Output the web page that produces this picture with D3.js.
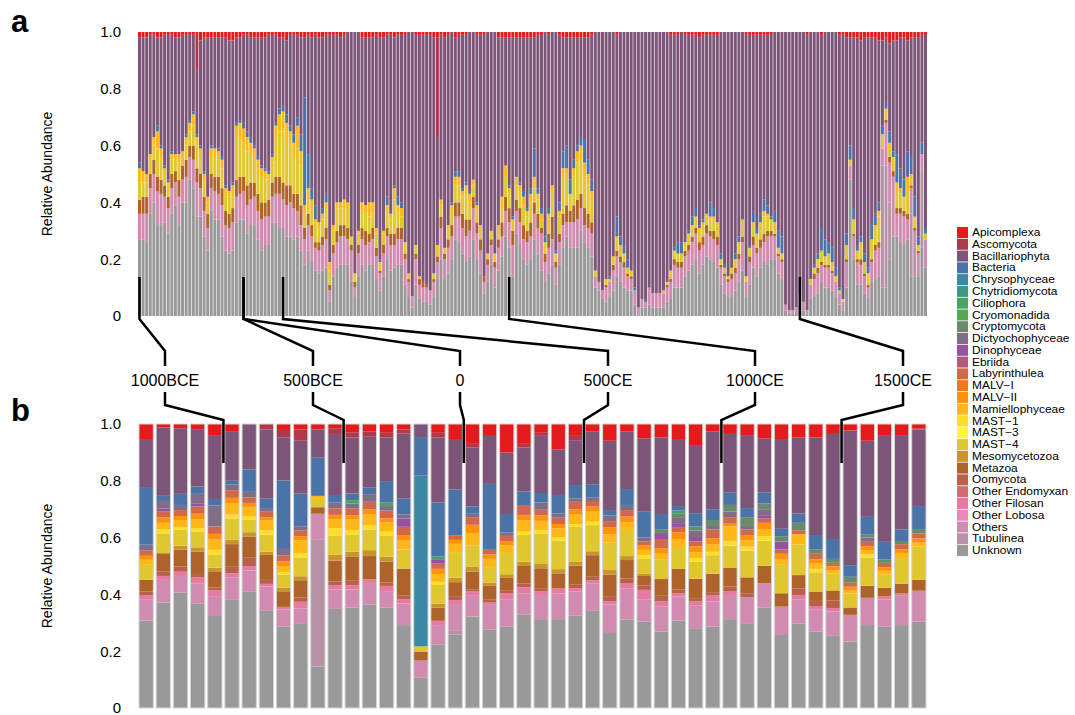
<!DOCTYPE html>
<html>
<head>
<meta charset="utf-8">
<script src="https://cdn.jsdelivr.net/npm/d3@7"></script>
<style>
  body { margin: 0; background: #fff; }
  svg text { font-family: "Liberation Sans", Arial, Helvetica, sans-serif; fill: #000; }
</style>
</head>
<body>
<svg id="chart" width="1075" height="715"></svg>
<script>
// legend order, top to bottom; bars stack in the reverse order
const taxa = ["Apicomplexa", "Ascomycota", "Bacillariophyta", "Bacteria", "Chrysophyceae",
  "Chytridiomycota", "Ciliophora", "Cryomonadida", "Cryptomycota", "Dictyochophyceae",
  "Dinophyceae", "Ebriida", "Labyrinthulea", "MALV\u2212I", "MALV\u2212II", "Mamiellophyceae",
  "MAST\u22121", "MAST\u22123", "MAST\u22124", "Mesomycetozoa", "Metazoa", "Oomycota",
  "Other Endomyxan", "Other Filosan", "Other Lobosa", "Others", "Tubulinea", "Unknown"];

const tickValues = [0, 20, 40, 60, 80, 100];
const tickLabels = ["0", "0.2", "0.4", "0.6", "0.8", "1.0"];

// panel a: 220 samples, percent of reads
const aUnknown = [
  27,27,26,36,40,32,32,33,29,36, 39,32,40,40,48,45,35,35,28,23,
  37,34,34,28,23,22,23,33,34,34, 29,32,32,27,23,25,25,33,33,31,
  31,28,28,27,28,23,18,23,19,16, 15,16,17,5,14,17,18,18,18,12,
  7,14,18,16,18,18,13,9,14,20, 16,17,18,18,11,7,3,11,6,5,
  5,4,7,13,20,13,15,20,27,26, 22,19,21,27,20,15,8,12,18,10,
  16,21,28,24,14,29,25,20,18,20, 27,22,16,12,15,18,11,18,24,28,
  24,24,24,30,26,24,21,10,9,6, 5,7,9,14,12,10,9,9,4,0,
  3,3,4,3,3,3,3,5,6,10, 10,10,14,16,18,20,15,18,21,20,
  19,17,11,8,7,7,9,12,16,7, 11,17,14,17,19,18,20,20,15,13,
  2,1,1,1,4,2,1,6,7,8, 12,10,10,9,7,4,2,10,48,20,
  11,11,8,6,12,13,14,10,10,20, 28,28,26,25,27,14,14,14,24,17];
const aTubulinea = [
  0,0,0,0,0,0,0,0,0,0, 0,0,0,0,0,0,0,0,0,0,
  0,0,0,0,0,0,0,0,0,0, 0,0,0,0,0,0,0,0,0,0,
  0,0,0,0,0,0,0,0,0,0, 0,0,0,0,0,0,0,0,0,0,
  0,0,0,0,0,0,0,0,0,0, 0,0,0,0,0,0,0,0,0,0,
  0,0,0,0,0,0,0,0,0,0, 0,0,0,0,0,0,0,0,0,0,
  0,0,0,0,0,0,0,0,0,0, 0,0,0,0,0,0,0,0,0,0,
  0,0,0,0,0,0,0,0,0,0, 0,0,0,0,0,0,0,0,0,0,
  0,0,0,0,0,0,0,0,0,0, 0,0,0,0,0,0,0,0,0,0,
  0,0,0,0,0,0,0,0,0,0, 0,0,0,0,0,0,0,0,0,0,
  0,0,0,0,0,0,0,0,0,0, 0,0,0,0,0,0,0,0,0,0,
  0,0,0,0,0,0,0,43,43,20, 0,0,0,0,0,22,10,0,27,0];
const aOthers = [
  9,9,10,9,10,12,11,9,9,9, 8,10,8,9,8,10,12,10,9,8,
  8,10,9,11,9,9,10,9,9,10, 10,9,10,10,11,10,10,9,10,12,
  10,11,12,11,9,9,9,9,9,8, 8,9,10,4,8,9,10,10,9,11,
  3,8,9,9,8,9,8,6,8,8, 9,8,9,9,9,5,4,9,5,5,
  5,5,5,6,11,7,9,8,8,9, 9,9,9,11,9,8,4,6,7,7,
  8,7,9,9,11,8,8,7,8,8, 9,9,13,7,9,9,6,8,8,5,
  9,9,10,8,6,7,8,4,3,3, 5,5,7,7,7,7,5,4,5,3,
  3,2,6,5,5,5,5,5,6,8, 7,7,7,7,8,9,8,7,8,8,
  8,8,6,6,5,6,6,8,10,5, 8,8,8,7,7,10,8,8,6,6,
  2,1,1,2,4,3,1,5,6,7, 6,7,7,6,5,4,3,9,5,8,
  8,7,6,4,7,10,10,6,15,14, 21,8,10,10,7,9,6,8,6,10];
const aMetazoa = [
  5,6,6,5,5,5,5,4,4,5, 4,6,5,6,4,5,5,5,5,5,
  5,5,6,6,5,5,5,6,6,5, 7,6,5,6,6,5,6,5,6,6,
  6,7,6,5,6,7,4,4,4,2, 3,3,4,2,3,4,4,4,4,2,
  2,3,4,5,3,4,3,1,3,3, 4,4,4,4,2,1,0,2,2,2,
  1,0,1,2,4,2,3,4,5,5, 5,6,4,4,4,4,2,2,2,2,
  3,5,5,5,5,4,5,5,4,5, 4,5,2,3,5,8,2,3,4,6,
  4,6,7,5,6,5,4,0,0,0, 1,0,2,2,2,2,1,1,0,0,
  0,0,0,0,0,0,0,1,1,2, 2,2,2,2,2,2,3,3,3,2,
  3,3,1,1,1,2,2,2,2,0, 2,3,2,3,3,2,2,1,1,1,
  0,0,0,0,0,0,0,0,2,2, 1,1,1,1,0,0,0,1,0,1,
  1,2,1,1,1,2,2,0,1,2, 2,2,2,2,2,1,1,1,0,0];
const aMast4 = [
  6,5,5,5,5,10,7,4,4,5, 4,6,3,5,5,7,8,6,5,4,
  6,7,6,7,6,6,6,14,13,12, 12,10,9,9,9,8,7,7,13,16,
  18,16,14,13,16,14,5,5,6,7, 5,6,6,5,5,8,6,6,6,3,
  3,4,6,6,6,5,5,2,4,6, 5,12,5,4,4,2,0,3,1,0,
  0,0,2,3,4,2,4,5,6,6, 6,9,6,4,4,4,0,2,2,3,
  4,5,7,5,4,5,5,7,5,7, 5,5,3,4,6,9,3,6,13,11,
  6,10,13,12,11,10,9,2,0,0, 2,1,3,4,3,3,2,2,0,0,
  0,0,0,0,0,0,1,1,2,3, 3,3,3,4,4,4,4,4,3,4,
  4,4,2,2,1,2,3,4,6,2, 3,5,5,5,6,5,4,4,2,2,
  0,0,0,0,0,0,0,2,2,3, 3,3,4,3,2,1,1,5,2,4,
  3,5,4,4,7,6,9,5,4,5, 5,6,5,4,8,3,3,2,0,2];
const aMamiello = [
  5,4,3,2,3,6,4,2,1,2, 2,3,2,3,3,4,3,3,3,2,
  3,3,3,3,2,2,2,5,6,5, 5,4,3,3,3,3,2,2,5,6,
  7,6,5,5,8,5,3,4,3,1, 2,2,3,3,2,2,2,3,3,0,
  0,1,3,3,5,4,2,1,1,2, 2,4,3,3,0,0,0,0,0,0,
  0,0,0,1,2,0,1,2,3,3, 2,3,3,2,2,1,0,0,1,0,
  1,4,4,2,0,3,3,3,2,3, 4,2,2,0,1,2,0,2,3,2,
  0,3,4,5,5,4,2,0,0,0, 0,0,0,1,1,0,0,0,0,0,
  0,0,0,0,0,0,0,0,1,0, 0,0,0,0,0,0,1,1,1,1,
  1,1,0,0,0,0,0,0,0,0, 0,0,0,1,2,1,0,0,0,0,
  0,0,0,0,0,0,0,0,0,0, 1,0,0,0,0,0,0,0,0,1,
  0,1,0,0,0,1,2,0,0,0, 0,3,2,1,5,1,1,0,0,0];
const aBacteria = [
  2,0,0,0,0,2,1,1,1,1, 0,0,0,1,1,1,1,1,1,0,
  1,0,1,1,1,0,1,1,1,2, 2,2,1,1,1,1,1,1,1,2,
  2,3,2,3,3,6,38,12,4,5, 0,2,3,0,0,0,0,0,0,0,
  0,0,0,0,0,0,0,1,0,3, 1,1,3,2,0,0,0,0,0,0,
  0,0,0,0,0,0,0,1,2,2, 1,1,1,0,1,0,0,0,0,0,
  0,0,0,1,1,0,1,2,1,2, 10,2,2,2,2,0,1,3,6,8,
  5,3,2,3,8,5,4,0,0,0, 0,1,0,7,3,2,3,0,1,0,
  0,1,0,0,0,0,0,0,0,1, 4,4,0,1,3,3,1,1,0,5,
  3,0,2,1,0,0,2,2,0,0, 1,4,2,3,4,3,1,4,6,6,
  0,0,0,0,2,0,0,0,1,2, 8,6,4,5,3,1,0,4,5,4,
  2,2,3,2,5,4,3,3,2,4, 2,10,7,6,9,6,7,3,4,2];
const aBacillario = [
  44,47,48,42,36,31,38,46,51,41, 41,41,41,35,30,27,23,37,47,56,
  38,39,39,42,52,53,50,30,29,31, 34,35,38,42,45,46,48,42,31,25,
  24,26,32,35,29,34,21,42,53,60, 65,60,56,80,67,59,58,58,60,72,
  85,70,58,59,58,58,68,78,68,57, 62,52,57,59,73,85,93,74,85,87,
  88,90,83,38,58,74,67,60,47,48, 54,52,56,52,59,67,85,78,70,78,
  66,56,45,52,63,49,51,54,60,53, 39,54,61,72,61,54,77,59,40,38,
  50,43,38,35,36,43,51,84,88,91, 87,86,79,64,72,76,80,84,90,97,
  94,94,90,92,92,92,91,88,83,75, 73,74,73,69,64,61,66,65,63,59,
  61,66,78,82,86,83,78,72,66,85, 74,62,68,63,58,60,64,63,70,72,
  96,98,98,97,90,95,97,87,82,78, 68,73,74,76,83,89,93,69,38,60,
  73,69,76,81,66,62,57,30,23,31, 39,40,46,50,39,42,56,70,38,68];
const aAsco = [
  0,0,0,0,0,0,0,0,0,0, 0,0,0,0,0,0,12,0,0,0,
  0,0,0,0,0,0,0,0,0,0, 0,0,0,0,0,0,0,0,0,0,
  0,0,0,0,0,0,0,0,0,0, 0,0,0,0,0,0,0,0,0,0,
  0,0,0,0,0,0,0,0,0,0, 0,0,0,0,0,0,0,0,0,0,
  0,0,0,35,0,0,0,0,0,0, 0,0,0,0,0,0,0,0,0,0,
  0,0,0,0,0,0,0,0,0,0, 0,0,0,0,0,0,0,0,0,0,
  0,0,0,0,0,0,0,0,0,0, 0,0,0,0,0,0,0,0,0,0,
  0,0,0,0,0,0,0,0,0,0, 0,0,0,0,0,0,0,0,0,0,
  0,0,0,0,0,0,0,0,0,0, 0,0,0,0,0,0,0,0,0,0,
  0,0,0,0,0,0,0,0,0,0, 0,0,0,0,0,0,0,0,0,0,
  0,0,0,0,0,0,0,0,0,0, 0,0,0,0,0,0,0,0,0,0];
const aApic = [
  2,2,2,1,1,2,2,1,1,1, 2,2,1,1,1,1,1,3,2,2,
  2,2,2,2,2,3,3,2,2,1, 1,2,2,2,2,2,1,1,1,2,
  2,3,1,1,1,2,2,1,2,1, 2,2,1,1,1,1,2,1,0,0,
  0,0,2,2,2,2,1,2,2,1, 1,2,1,1,1,0,0,1,1,1,
  1,1,2,2,1,2,1,0,2,1, 1,1,0,0,1,1,1,0,0,0,
  2,2,2,2,2,2,2,2,2,2, 2,1,1,0,1,0,0,1,2,2,
  2,2,2,2,2,2,1,0,0,0, 0,0,0,1,0,0,0,0,0,0,
  0,0,0,0,0,0,0,0,1,1, 1,0,1,1,1,1,2,1,1,1,
  1,1,0,0,0,0,0,0,0,1, 1,1,1,1,1,1,1,0,0,0,
  0,0,0,0,0,0,1,0,0,0, 1,0,0,0,0,1,1,2,2,2,
  2,3,2,2,2,2,3,3,2,4, 3,3,2,2,3,2,2,2,1,1];

// panel b: 46 samples, percent of reads
const bUnknown = [30.8,37.1,40.6,36.7,32.4,38.3,41.1,34.2,28.6,29.6, 14.6,34.9,35.4,36.5,35.3,29.2,10.8,22.4,25.9,32.2,
  27.7,28.6,33.0,31.3,31.3,32.5,34.2,26.4,31.2,30.4, 26.9,30.8,28.1,28.7,31.3,29.6,35.3,25.7,29.8,26.9, 25.4,23.4,29.2,28.6,29.2,30.4];
const bTubulinea = [0,0,0,0,0,0,0,0,0,0, 44.6,0,0,0,0,0,0,0,1.5,0,
  0,0,0,0,0,0,0,0,0,0, 0,0,0,0,0,0,0,0,0,0, 0,0,0,0,0,0];
const bOthers = [7.3,8.0,5.9,7.2,7.0,7.7,7.3,8.6,6.1,5.5, 9.2,6.9,6.3,7.2,5.6,7.6,5.9,6.8,9.2,7.3,
  8.6,9.7,7.4,8.5,9.0,8.5,9.6,10.0,10.8,7.9, 8.8,8.5,7.9,8.8,8.5,9.4,8.6,10.0,8.5,7.9, 8.6,9.4,9.6,9.6,10.3,10.9];
const bOtherFilosan = [1.5,1.4,1.5,2.1,2.1,1.4,1.6,0.9,0.9,2.3, 0,1.5,1.5,1.6,2.1,1.4,0,1.5,1.4,1.5,
  0.8,2.0,2.1,1.2,1.8,1.2,1.2,1.2,1.8,3.3, 1.8,1.2,1.5,2.1,1.2,0,0,0,1.5,0.9, 1.2,0,0,1.2,0.8,0];
const bOomycota = [1.4,1.5,1.8,1.2,0.9,2.3,3.1,1.4,0,1.5, 0,1.2,1.8,0,1.2,1.5,0,0,1.4,0.8,
  1.2,1.2,1.4,1.2,0,1.2,1.2,1.8,1.8,1.5, 2.0,1.2,1.2,1.2,1.8,1.4,0,0,2.3,2.0, 2.6,0,0,0,0,0];
const bMetazoa = [4.1,6.5,5.9,7.9,5.5,8.0,7.3,8.8,5.5,6.1, 2.3,7.4,8.2,8.2,7.3,9.4,3.2,4.7,4.9,6.2,
  4.7,4.3,6.1,7.0,5.3,6.7,7.6,7.6,6.5,3.4, 5.9,7.3,6.8,6.5,6.5,5.6,6.2,4.7,4.7,3.3, 3.6,2.6,4.2,2.9,3.5,3.8];
const bMesomyc = [0,0,1.4,1.5,1.5,1.6,1.5,1.2,1.2,1.4, 0,2.0,1.8,2.1,1.8,0,0,1.4,1.6,1.8,
  1.2,1.3,1.5,1.5,1.5,1.5,1.4,1.8,1.4,0.7, 0,0,0,0,0,0,0,0,0,0, 0,0,0,0,0,0];
const bMast4 = [5.3,7.0,5.6,5.4,4.7,7.4,4.5,5.9,4.7,6.6, 3.2,6.7,6.1,7.3,7.3,6.7,1.8,6.5,9.0,7.3,
  5.4,7.5,9.4,10.6,10.0,12.3,9.2,9.4,9.2,5.5, 7.0,7.7,6.1,6.5,7.9,9.4,8.8,10.0,10.8,6.8, 5.9,5.0,10.0,4.8,9.0,11.7];
const bMast1 = [0,1.4,0.9,1.2,1.6,1.4,1.2,1.5,0.9,1.6, 0,2.7,1.5,1.5,1.5,0,0,1.1,0,0,
  0,0,1.2,1.4,1.2,0.9,1.2,0,0,1.2, 0,0,1.2,1.2,1.5,1.4,1.6,0,0,1.2, 0,0,1.1,0,0,0];
const bMamiello = [1.8,2.3,2.6,3.3,3.6,3.9,3.2,3.5,2.1,4.5, 0.8,3.2,3.8,3.9,3.2,3.1,0,2.8,2.9,4.5,
  2.9,2.7,3.9,3.2,3.2,3.5,3.5,2.9,2.6,1.8, 1.9,2.8,2.0,2.7,5.3,2.3,2.5,2.1,3.6,2.0, 1.2,0.9,1.5,1.2,1.8,1.4];
const bMalv2 = [1.4,1.9,1.4,1.9,2.0,2.0,1.4,1.2,1.6,1.4, 0,1.5,1.5,1.6,1.5,2.0,0,1.8,1.4,2.9,
  1.6,1.5,2.0,1.9,1.5,1.6,1.8,2.6,2.1,1.5, 2.0,2.3,2.1,2.0,0.9,1.8,2.2,1.8,0,1.4, 1.4,1.4,1.4,1.2,1.3,1.5];
const bLaby = [1.8,2.2,2.1,2.6,2.6,2.7,1.9,1.9,2.1,2.1, 0,2.3,2.3,2.7,2.7,2.9,0,1.8,1.5,2.7,
  1.9,1.8,3.2,2.0,2.2,2.7,2.0,2.1,2.3,1.4, 3.2,1.9,1.8,3.2,2.3,2.0,1.5,1.5,1.4,1.9, 1.2,1.4,1.5,1.6,1.8,1.8];
const bDino = [0,0.9,0,0.9,0,0,0,0,0,0, 0,0,0,0,0,2.9,0,1.6,0,0,
  0,0,0,0,0,0,0,0,0,0, 2.1,1.4,1.5,0,0,0,1.2,2.8,0,0, 0,0,0,0,0,0];
const bDictyo = [2.1,2.7,1.8,3.5,7.4,2.0,2.0,1.3,2.3,1.4, 0,2.0,1.8,2.7,1.6,1.4,0,0,0,1.2,
  0,1.2,0,2.6,1.5,1.2,1.3,2.0,1.8,1.5, 0,2.1,2.3,1.2,2.0,1.2,2.1,0,0,0, 0,0,1.5,0,0,0];
const bCrypto = [0,0,0,0,0,0,0,0,0,0, 0,0,0,0,0,0,0,0,0,0,
  0,0,0,0,0,0,0,0,0,0, 1.2,1.4,1.4,2.1,2.3,3.1,2.0,1.9,2.6,1.6, 1.4,2.1,1.2,1.2,1.1,1.5];
const bCilio = [0,0,0,0,0,0,0,0,0,0, 0,0,1.2,0,1.2,0,0,0.9,0,0,
  0,0,0,0,0,0,0,0,0,0, 0,0.9,0,0,0,0,0,0,0,0, 0,0,0,0,0,0];
const bChryso = [0,0,0,0,0,0,0,0,0,0, 0,0,0,0,0,0,60.1,0,0,0,
  0,0,0,0,0,0,0,0,0,0, 0,0,0,0,0,0,0,0,0,0, 0,0,0,0,0,0];
const bBacteria = [20.3,1.8,3.9,2.6,2.3,1.3,7.9,3.3,24.1,11.5, 13.6,2.7,2.3,2.3,7.6,5.6,13.6,19.1,16.2,2.6,
  22.9,6.5,5.0,3.3,6.5,4.7,4.6,1.9,5.6,9.0, 5.5,1.6,4.7,3.8,4.3,3.2,3.8,2.6,3.3,5.0, 7.0,4.1,6.1,6.2,4.1,8.1];
const bBacillario = [16.6,24.1,23.1,20.2,22.5,17.5,16.0,24.4,15.2,18.6, 9.8,21.5,19.8,17.9,15.4,23.0,4.6,22.9,17.5,20.8,
  16.9,21.7,15.5,20.4,16.1,15.8,18.5,24.4,20.2,25.9, 27.0,23.3,24.0,27.3,20.7,25.7,19.2,31.3,26.7,34.4, 37.0,47.4,26.8,37.6,33.2,27.0];
const bAsco = [0,0,0,0,0,0,0,1.9,2.6,4.0, 0,2.0,1.8,1.8,1.6,1.4,0,1.6,0,1.2,
  0,0,1.3,0.8,0,1.8,0,0,0,0, 0,0,0,0,0,0,0,0,0,0, 0,0,0,0,0,0.4];
const bApic = [5.6,1.2,1.5,1.8,3.9,2.5,0,0,2.1,1.9, 1.9,1.5,2.9,2.7,3.1,1.9,0,3.1,5.6,7.0,
  4.2,10.0,7.0,3.1,8.9,3.9,2.7,5.9,2.7,5.0, 4.7,5.6,7.4,2.7,3.5,3.9,5.0,5.6,4.8,4.7, 3.5,2.3,5.9,3.9,3.9,1.5];

// time labels linking samples of panel a to those of panel b
const periods = ["1000BCE", "500BCE", "0", "500CE", "1000CE", "1500CE"];
const periodA = [0, 29, 29, 40, 103, 184];   // bar index in panel a
const periodB = [5, 12, 19, 26, 34, 41];     // line sits just left of this bar in panel b
const periodX = [165, 313, 460, 608, 755, 903];

const seriesA = {
  "Unknown": aUnknown, "Tubulinea": aTubulinea, "Others": aOthers, "Metazoa": aMetazoa,
  "MAST\u22124": aMast4, "Mamiellophyceae": aMamiello, "Bacteria": aBacteria,
  "Bacillariophyta": aBacillario, "Ascomycota": aAsco, "Apicomplexa": aApic
};
const seriesB = {
  "Unknown": bUnknown, "Tubulinea": bTubulinea, "Others": bOthers, "Other Filosan": bOtherFilosan,
  "Oomycota": bOomycota, "Metazoa": bMetazoa, "Mesomycetozoa": bMesomyc, "MAST\u22124": bMast4,
  "MAST\u22121": bMast1, "Mamiellophyceae": bMamiello, "MALV\u2212II": bMalv2, "Labyrinthulea": bLaby,
  "Dinophyceae": bDino, "Dictyochophyceae": bDictyo, "Cryptomycota": bCrypto, "Ciliophora": bCilio,
  "Chrysophyceae": bChryso, "Bacteria": bBacteria, "Bacillariophyta": bBacillario,
  "Ascomycota": bAsco, "Apicomplexa": bApic
};

const colors = d3.quantize(d3.piecewise(d3.interpolateRgb, d3.schemeSet1), taxa.length);
const color = d3.scaleOrdinal().domain(taxa).range(colors);
const stackKeys = taxa.slice().reverse();

const svg = d3.select("#chart");

function rowsFrom(series, n) {
  return d3.range(n).map(i => {
    const row = {};
    stackKeys.forEach(k => { row[k] = series[k] ? series[k][i] : 0; });
    return row;
  });
}

function drawPanel(series, n, x0, x1, yBottom, yTop, pad, outline) {
  const rows = rowsFrom(series, n);
  const x = d3.scaleBand().domain(d3.range(n)).range([x0, x1]).paddingInner(pad).paddingOuter(0);
  const y = d3.scaleLinear().domain([0, 100]).range([yBottom, yTop]);
  const stacked = d3.stack().keys(stackKeys)(rows);

  const g = svg.append("g");
  g.selectAll("g.layer")
    .data(stacked)
    .join("g")
    .attr("class", "layer")
    .attr("fill", d => color(d.key))
    .selectAll("rect")
    .data(d => d)
    .join("rect")
    .attr("x", (d, i) => x(i))
    .attr("width", x.bandwidth())
    .attr("y", d => y(Math.min(d[1], 100)))
    .attr("height", d => Math.max(0, y(d[0]) - y(Math.min(d[1], 100))));

  if (outline) {
    g.selectAll("rect.frame")
      .data(d3.range(n))
      .join("rect")
      .attr("class", "frame")
      .attr("x", i => x(i))
      .attr("width", x.bandwidth())
      .attr("y", y(100))
      .attr("height", y(0) - y(100))
      .attr("fill", "none")
      .attr("stroke", "#d4d4d4")
      .attr("stroke-width", 1);
  }

  // y axis: labels only, like the reference
  const ax = svg.append("g")
    .attr("transform", "translate(126,0)")
    .call(d3.axisLeft(y).tickValues(tickValues).tickFormat((d, i) => tickLabels[i]).tickSize(0).tickPadding(5));
  ax.select(".domain").remove();
  ax.selectAll("text").style("font-size", "15px").attr("font-family", "Liberation Sans, Arial, sans-serif");

  svg.append("text")
    .attr("transform", `translate(52,${(yBottom + yTop) / 2}) rotate(-90)`)
    .attr("text-anchor", "middle")
    .style("font-size", "14px")
    .text("Relative Abundance");

  return x;
}

const xA = drawPanel(seriesA, aUnknown.length, 138, 927, 316, 32, 0.17, false);
const xB = drawPanel(seriesB, bUnknown.length, 139, 926, 708, 424, 0.167, true);

// panel letters
svg.append("text").attr("x", 11).attr("y", 32).style("font-size", "31px").style("font-weight", "bold").text("a");
svg.append("text").attr("x", 11).attr("y", 421).style("font-size", "31px").style("font-weight", "bold").text("b");

// time labels and connector lines
const gapB = xB.step() - xB.bandwidth();
const line = d3.line();
periods.forEach((p, i) => {
  const xa = xA(periodA[i]) + xA.bandwidth() / 2;
  const xb = xB(periodB[i]) - gapB / 2;
  const xl = periodX[i];
  svg.append("path")
    .attr("d", line([[xa, 277], [xa, 319], [xl, 351], [xl, 366]]))
    .attr("fill", "none").attr("stroke", "#000").attr("stroke-width", 2.5);
  svg.append("path")
    .attr("d", line([[xl, 392], [xl, 405], [xb, 420], [xb, 463]]))
    .attr("fill", "none").attr("stroke", "#000").attr("stroke-width", 2.5);
  svg.append("text")
    .attr("x", xl).attr("y", 386)
    .attr("text-anchor", "middle")
    .style("font-size", "16px")
    .text(p);
});

// legend: compact rows as in the reference, text stretched sideways to keep its width
const legend = svg.append("g").attr("transform", "translate(957,227)");
const rowH = 11.78;
taxa.forEach((t, i) => {
  legend.append("rect")
    .attr("x", 0).attr("y", i * rowH)
    .attr("width", 11).attr("height", 11)
    .attr("fill", color(t));
  legend.append("text")
    .attr("transform", `translate(15,${i * rowH + 5.5}) scale(1.17,1)`)
    .attr("dy", "0.35em")
    .style("font-size", "10.2px")
    .text(t);
});
</script>
</body>
</html>
